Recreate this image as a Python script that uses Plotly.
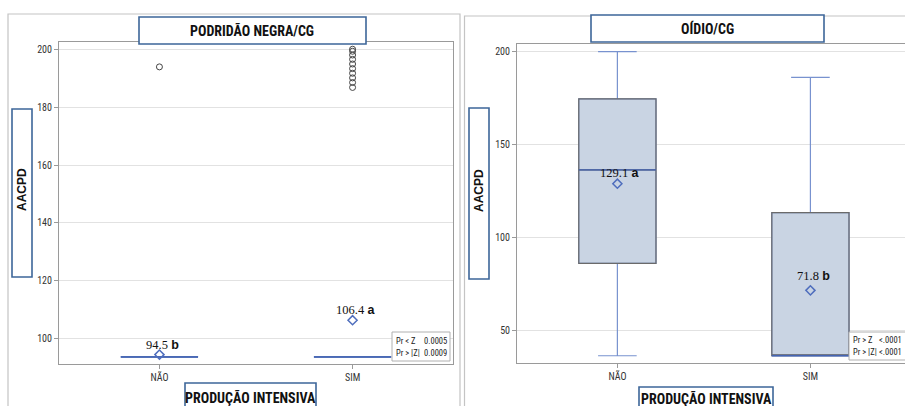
import plotly.graph_objects as go

W, H = 905, 406

# ---------------- data ----------------
categories = ["NÃO", "SIM"]

# Podridão negra / CG
pn_q1 = [93.7, 93.7]
pn_median = [93.7, 93.7]
pn_q3 = [93.7, 93.7]
pn_lower = [93.7, 93.7]
pn_upper = [93.7, 93.7]
pn_mean = [94.5, 106.4]
pn_group = ["b", "a"]
pn_out_nao = [193.9]
pn_out_sim = [200.0, 199.3, 198.0, 196.5, 194.9, 193.3, 191.7, 190.1, 188.5, 186.8]
pn_test_labels = ["Pr < Z", "Pr > |Z|"]
pn_test_values = ["0.0005", "0.0009"]

# Oídio / CG
oi_q1 = [86.3, 36.7]
oi_median = [136.5, 36.7]
oi_q3 = [174.6, 113.6]
oi_lower = [36.7, 36.7]
oi_upper = [200.0, 186.2]
oi_mean = [129.1, 71.8]
oi_group = ["a", "b"]
oi_test_labels = ["Pr > Z", "Pr > |Z|"]
oi_test_values = ["<.0001", "<.0001"]

titles = ["PODRIDÃO NEGRA/CG", "OÍDIO/CG"]
ytitle = "AACPD"
xtitle = "PRODUÇÃO INTENSIVA"

# ---------------- style ----------------
NARROW = "Liberation Sans Narrow, Arial Narrow, Roboto Condensed, Liberation Sans, sans-serif"
SANS = "Liberation Sans, Arial, sans-serif"
SERIF = "Liberation Serif, Times New Roman, serif"
FILL = "#c9d4e3"
BOXLINE = "#6a6a6a"
WHISK = "#7892cf"
MEDIAN = "#4565b3"
DIAM = "#4f6ebd"
BOXBLUE = "#3d6699"
FRAME = "#c4c4c4"

def px(x):
    return x / W

def py(y):
    return 1 - y / H

fig = go.Figure()

def add_boxes(xa, ya, q1, med, q3, lo, up, box_line):
    fig.add_trace(go.Box(x=categories, q1=q1, median=med, q3=q3,
                         lowerfence=lo, upperfence=up, width=0.4, whiskerwidth=0.5,
                         fillcolor=FILL, line=dict(color=WHISK, width=1.2),
                         xaxis=xa, yaxis=ya, showlegend=False, hoverinfo="skip"))
    fig.add_trace(go.Box(x=categories, q1=q1, median=med, q3=q3,
                         lowerfence=q1, upperfence=q3, width=0.4, whiskerwidth=0,
                         fillcolor="rgba(0,0,0,0)", line=dict(color=box_line, width=1.2),
                         xaxis=xa, yaxis=ya, showlegend=False, hoverinfo="skip"))
    fig.add_trace(go.Box(x=categories, q1=med, median=med, q3=med,
                         lowerfence=med, upperfence=med, width=0.4, whiskerwidth=0,
                         fillcolor="rgba(0,0,0,0)", line=dict(color=MEDIAN, width=1.4),
                         xaxis=xa, yaxis=ya, showlegend=False, hoverinfo="skip"))

def add_means(xa, ya, means, groups, xref, yref, yshift):
    fig.add_trace(go.Scatter(x=categories, y=means, mode="markers",
                             marker=dict(symbol="diamond-open", size=7, color=DIAM,
                                         line=dict(width=1.5, color=DIAM)),
                             xaxis=xa, yaxis=ya, showlegend=False, hoverinfo="skip"))
    for c, m, g, ys in zip(categories, means, groups, yshift):
        fig.add_annotation(x=c, y=m, xref=xref, yref=yref,
                           text=f'<span style="font-family:{SERIF}">{m:.1f}</span> <b>{g}</b>',
                           showarrow=False, yanchor="bottom", yshift=ys, xshift=3,
                           font=dict(family=SANS, size=12.5, color="#111"))

# left panel
add_boxes("x", "y", pn_q1, pn_median, pn_q3, pn_lower, pn_upper, MEDIAN)
fig.add_trace(go.Scatter(x=[categories[0]] * len(pn_out_nao) + [categories[1]] * len(pn_out_sim),
                         y=pn_out_nao + pn_out_sim, mode="markers",
                         marker=dict(symbol="circle-open", size=6, color="#444",
                                     line=dict(width=1, color="#444")),
                         xaxis="x", yaxis="y", showlegend=False, hoverinfo="skip"))
add_means("x", "y", pn_mean, pn_group, "x", "y", [1, 1])

# right panel
add_boxes("x2", "y2", oi_q1, oi_median, oi_q3, oi_lower, oi_upper, BOXLINE)
add_means("x2", "y2", oi_mean, oi_group, "x2", "y2", [2, 5])

axis_common = dict(showline=True, linecolor="#9a9a9a", linewidth=1, mirror=True,
                   ticks="outside", ticklen=4, tickcolor="#9a9a9a",
                   tickfont=dict(family=NARROW, size=10, color="#333"), zeroline=False)

fig.update_layout(
    width=W, height=H, margin=dict(l=0, r=0, t=0, b=0),
    paper_bgcolor="white", plot_bgcolor="white",
    xaxis=dict(domain=[px(59), px(453)], range=[-0.52, 1.52], type="category",
               anchor="y", showgrid=False, **axis_common),
    yaxis=dict(domain=[py(364), py(42)], range=[91.26, 202.5], anchor="x",
               tickvals=[100, 120, 140, 160, 180, 200], showgrid=True,
               gridcolor="#e2e2e2", **axis_common),
    xaxis2=dict(domain=[px(517), 1.0], range=[-0.52, 1.49], type="category",
                anchor="y2", showgrid=False, **axis_common),
    yaxis2=dict(domain=[py(363), py(44)], range=[32.8, 204.1], anchor="x2",
                tickvals=[50, 100, 150, 200], showgrid=True,
                gridcolor="#e2e2e2", **axis_common),
)

shapes = []
shapes.append(dict(type="rect", xref="paper", yref="paper", x0=px(8), x1=px(460),
                   y0=py(420), y1=py(14), line=dict(color=FRAME, width=1.2), layer="below"))
shapes.append(dict(type="rect", xref="paper", yref="paper", x0=px(464.5), x1=px(915),
                   y0=py(420), y1=py(16), line=dict(color=FRAME, width=1.2), layer="below"))

def label_box(x0, x1, y0, y1):
    shapes.append(dict(type="rect", xref="paper", yref="paper", x0=px(x0), x1=px(x1),
                       y0=py(y1), y1=py(y0), fillcolor="white",
                       line=dict(color=BOXBLUE, width=1.6), layer="above"))

label_box(139, 366, 17, 44)
label_box(591, 824, 15, 42)
label_box(12, 32, 109, 277)
label_box(469, 489, 108, 279)
label_box(185, 316, 383, 420)
label_box(639, 773, 387, 420)

for (x0, x1, y0, y1) in [(392, 450, 332, 361), (849, 910, 332, 360)]:
    shapes.append(dict(type="rect", xref="paper", yref="paper", x0=px(x0), x1=px(x1),
                       y0=py(y1), y1=py(y0), fillcolor="white",
                       line=dict(color="#b0b0b0", width=1), layer="above"))
fig.update_layout(shapes=shapes)

def text(x, y, s, size=13, family=NARROW, bold=True, angle=0, xanchor="center", color="#111"):
    fig.add_annotation(x=px(x), y=py(y), xref="paper", yref="paper",
                       text=f"<b>{s}</b>" if bold else s, showarrow=False,
                       xanchor=xanchor, yanchor="middle", textangle=angle,
                       font=dict(family=family, size=size, color=color))

text(252, 31, titles[0], size=14)
text(707, 29, titles[1], size=14)
text(22, 190, ytitle, size=12, family=SANS, angle=-90)
text(479, 190, ytitle, size=12, family=SANS, angle=-90)
text(251, 397.5, xtitle, size=14)
text(706, 398.5, xtitle, size=14)

for i, (lab, val) in enumerate(zip(pn_test_labels, pn_test_values)):
    yy = 340.5 + i * 12.5
    text(393.5, yy, lab, size=8.5, bold=False, xanchor="left", color="#222")
    text(449, yy, val, size=8.5, bold=False, xanchor="right", color="#222")
for i, (lab, val) in enumerate(zip(oi_test_labels, oi_test_values)):
    yy = 339.5 + i * 12.5
    text(850.5, yy, lab, size=8.5, bold=False, xanchor="left", color="#222")
    text(904, yy, val, size=8.5, bold=False, xanchor="right", color="#222")

fig.write_html("out.html", config={"displayModeBar": False},
               post_script="document.body.style.margin='0px';document.body.style.overflow='hidden';")
